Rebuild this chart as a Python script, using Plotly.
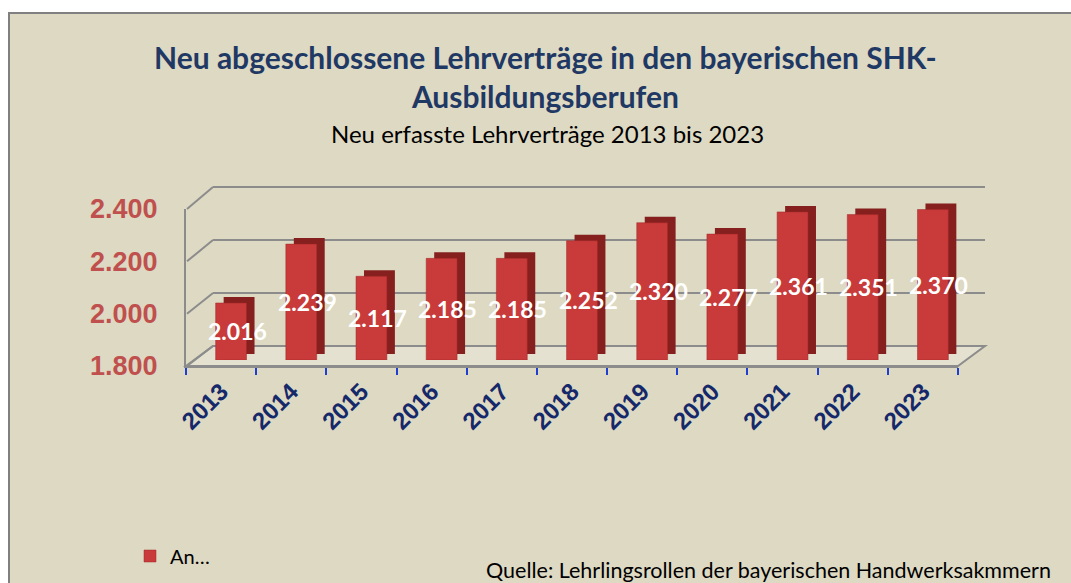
import plotly.graph_objects as go

# ---------------- data ----------------
years = ["2013", "2014", "2015", "2016", "2017", "2018", "2019", "2020", "2021", "2022", "2023"]
contracts = [2016, 2239, 2117, 2185, 2185, 2252, 2320, 2277, 2361, 2351, 2370]
value_labels = ["2.016", "2.239", "2.117", "2.185", "2.185", "2.252", "2.320", "2.277", "2.361", "2.351", "2.370"]
y_ticks = [1800, 2000, 2200, 2400]
y_tick_labels = ["1.800", "2.000", "2.200", "2.400"]
series_name = "An…"
title_text = "<b>Neu abgeschlossene Lehrverträge in den bayerischen SHK-<br>Ausbildungsberufen</b>"
subtitle_text = "Neu erfasste Lehrverträge 2013 bis 2023"
source_text = "Quelle: Lehrlingsrollen der bayerischen Handwerksakmmern"

# ---------------- geometry helpers (pixel -> paper) ----------------
W, H = 1071, 583
Y_MIN, Y_MAX = 1800, 2400
PAD = 20  # value padding so edge gridlines are drawn


def px(x):
    return x / W


def py(y):
    return 1 - y / H


# front plane (axis labels), back wall, bar front plane, bar depth plane
FRONT = dict(x0=186, x1=958, yb=366, yt=209)
BACK = dict(x0=213, x1=985, yb=346, yt=187)
BARF = dict(x0=196, x1=968, yb=360, yt=201.6)
BARB = dict(x0=204, x1=976, yb=354, yt=195.6)


def y_on(plane, v):
    return plane["yb"] - (v - Y_MIN) / (Y_MAX - Y_MIN) * (plane["yb"] - plane["yt"])


BG = "#DDD9C3"
GRID = "#8C8C8C"
RED = "#C93A3A"
RED_DARK = "#85201F"
NAVY_T = "#1F3864"
NAVY_X = "#14286A"
RED_Y = "#C0504D"
CAL = "Lato"

fig = go.Figure()

# back wall subplot (gridlines only)
fig.add_trace(go.Scatter(x=years, y=contracts, mode="markers", marker=dict(opacity=0),
                         xaxis="x", yaxis="y", showlegend=False, hoverinfo="skip"))
# bar depth (side/top faces)
fig.add_trace(go.Bar(x=years, y=[v - Y_MIN for v in contracts], base=Y_MIN, width=0.44,
                     marker=dict(color=RED_DARK, line=dict(width=0)),
                     xaxis="x2", yaxis="y2", showlegend=False, hoverinfo="skip"))
# bar front faces
fig.add_trace(go.Bar(x=years, y=[v - Y_MIN for v in contracts], base=Y_MIN, width=0.44,
                     name=series_name,
                     marker=dict(color=RED, line=dict(width=0.5, color="#A02828")),
                     xaxis="x3", yaxis="y3", showlegend=True))
# front axes (labels)
fig.add_trace(go.Scatter(x=years, y=contracts, mode="markers", marker=dict(opacity=0),
                         xaxis="x4", yaxis="y4", showlegend=False, hoverinfo="skip"))


def cat_axis(plane, anchor, **kw):
    d = dict(type="category", domain=[px(plane["x0"]), px(plane["x1"])], anchor=anchor,
             range=[-0.5, len(years) - 0.5], showgrid=False, zeroline=False,
             showticklabels=False, showline=False, fixedrange=True, automargin=False)
    d.update(kw)
    return d


def val_axis(plane, anchor, pad=0, **kw):
    d = dict(domain=[py(y_on(plane, Y_MIN - pad)), py(y_on(plane, Y_MAX + pad))], anchor=anchor,
             range=[Y_MIN - pad, Y_MAX + pad], showgrid=False, zeroline=False,
             showticklabels=False, showline=False, fixedrange=True, automargin=False)
    d.update(kw)
    return d


shapes = []
# chart frame
shapes.append(dict(type="rect", xref="paper", yref="paper", layer="below",
                   x0=px(9), y0=py(13), x1=1.2, y1=-0.2,
                   fillcolor=BG, line=dict(color="#808080", width=2)))
# floor
shapes.append(dict(type="path", xref="paper", yref="paper", layer="below",
                   path=f"M {px(FRONT['x0'])},{py(FRONT['yb'])} L {px(FRONT['x1'])},{py(FRONT['yb'])} "
                        f"L {px(BACK['x1'])},{py(BACK['yb'])} L {px(BACK['x0'])},{py(BACK['yb'])} Z",
                   fillcolor="#E4E1D0", line=dict(color=GRID, width=2)))
# left side-wall connectors
for v in y_ticks:
    shapes.append(dict(type="line", xref="paper", yref="paper", layer="below",
                       x0=px(FRONT["x0"] + 1), y0=py(y_on(FRONT, v)),
                       x1=px(BACK["x0"]), y1=py(y_on(BACK, v)),
                       line=dict(color=GRID, width=2)))

annotations = []
for i, (v, lab) in enumerate(zip(contracts, value_labels)):
    annotations.append(dict(x=i, y=(Y_MIN + v) / 2, xref="x3", yref="y3", xshift=6,
                            text=f"<b>{lab}</b>", showarrow=False,
                            font=dict(family=CAL, size=23, color="white")))
annotations.append(dict(x=px(545), y=py(76), xref="paper", yref="paper", text=title_text,
                        showarrow=False, xanchor="center", yanchor="middle",
                        font=dict(family=CAL, size=30, color=NAVY_T)))
annotations.append(dict(x=px(547), y=py(133), xref="paper", yref="paper", text=subtitle_text,
                        showarrow=False, xanchor="center", yanchor="middle",
                        font=dict(family=CAL, size=24, color="black")))
annotations.append(dict(x=px(484), y=py(570), xref="paper", yref="paper", text=source_text,
                        showarrow=False, xanchor="left", yanchor="middle",
                        font=dict(family=CAL, size=21.5, color="black")))

fig.update_layout(
    width=W, height=H, autosize=False,
    margin=dict(l=0, r=0, t=0, b=0, pad=0),
    paper_bgcolor="white", plot_bgcolor="rgba(0,0,0,0)",
    barmode="overlay",
    xaxis=cat_axis(BACK, "y"),
    yaxis=val_axis(BACK, "x", pad=PAD, showgrid=True, gridcolor=GRID, gridwidth=2,
                   tickmode="array", tickvals=y_ticks),
    xaxis2=cat_axis(BARB, "y2"),
    yaxis2=val_axis(BARB, "x2"),
    xaxis3=cat_axis(BARF, "y3"),
    yaxis3=val_axis(BARF, "x3"),
    xaxis4=cat_axis(FRONT, "y4", showticklabels=True, showline=True, linecolor=GRID, linewidth=2,
                    ticks="outside", tickson="boundaries", ticklen=7, tickwidth=1.5,
                    tickcolor="#1F3FD0", tickangle=-45,
                    tickfont=dict(family="Liberation Sans", size=24, color=NAVY_X, weight="bold")),
    yaxis4=val_axis(FRONT, "x4", showticklabels=True, showline=True, linecolor=GRID, linewidth=2,
                    tickmode="array", tickvals=y_ticks, ticktext=y_tick_labels,
                    ticks="", ticklabelstandoff=21,
                    tickfont=dict(family="Liberation Sans", size=27, color=RED_Y, weight="bold")),
    shapes=shapes,
    annotations=annotations,
    showlegend=True,
    legend=dict(x=px(130), y=py(556), xanchor="left", yanchor="middle",
                bgcolor="rgba(0,0,0,0)", font=dict(family=CAL, size=20, color="black")),
)

fig.write_html("out.html", config={"displayModeBar": False},
               post_script="document.body.style.margin='0';document.body.style.overflow='hidden';")
